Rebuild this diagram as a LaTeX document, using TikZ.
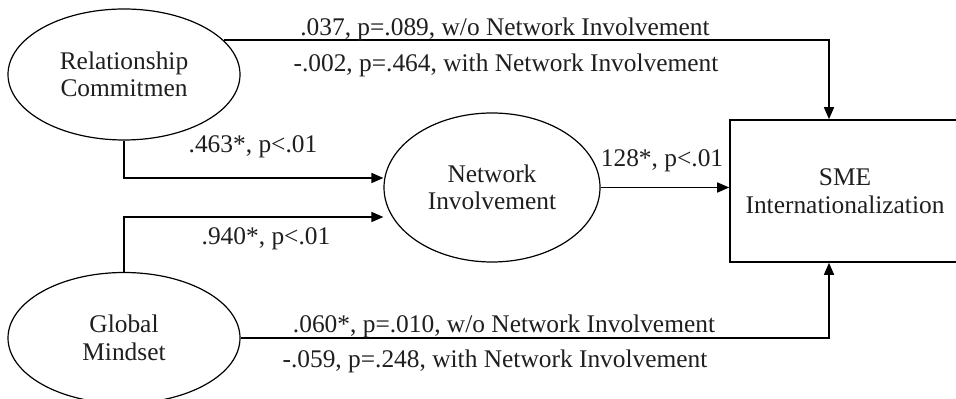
\documentclass[tikz,border=0pt]{standalone}
\usepackage{fontspec}
\setmainfont{Liberation Serif}
\usetikzlibrary{arrows.meta,shapes.geometric}
\begin{document}
\begin{tikzpicture}[x=0.5pt,y=-0.5pt,
  every node/.style={font=\fontsize{12.7}{13.8}\selectfont, text=black!88},
  latent/.style={draw, ellipse, inner sep=0pt, line width=0.6pt, align=center},
  outcome/.style={draw, rectangle, inner sep=0pt, line width=0.8pt, align=center},
  conn/.style={line width=0.8pt, -{Triangle[length=6pt,width=5pt]}},
  lbl/.style={anchor=base, inner sep=0pt}]
\useasboundingbox (0,0) rectangle (956,399);
\clip (0,0) rectangle (956,399);
\fill[white] (0,0) rectangle (956,399);

\node[latent, minimum width=116pt, minimum height=65.5pt] (rc) at (124,74.5) {Relationship\\Commitmen};
\node[latent, minimum width=108pt, minimum height=74.5pt] (ni) at (492,187.5) {Network\\Involvement};
\node[latent, minimum width=116pt, minimum height=65.5pt] (gm) at (124,338) {Global\\Mindset};
\node[outcome, minimum width=115pt, minimum height=71pt] (sme) at (845,191) {SME\\Internationalization};

\coordinate (topin) at ([xshift=-8pt]sme.north);
\coordinate (botin) at ([xshift=-8pt]sme.south);
\coordinate (rcin) at ([yshift=4.75pt]ni.west);
\coordinate (gmin) at ([yshift=-14.75pt]ni.west);

\draw[conn] (rc.19) -| (topin);
\draw[conn] (gm.east) -| (botin);
\draw[conn] (rc.south) |- (rcin);
\draw[conn] (gm.north) |- (gmin);
\draw[conn] (ni.east) -- (ni.east -| sme.west);

\node[lbl] (l1) at (505,36) {.037, p=.089, w/o Network Involvement};
\node[lbl] (l2) at (506,72) {-.002, p=.464, with Network Involvement};
\node[lbl] (l3) at (253,153) {.463*, p<.01};
\node[lbl] (l4) at (662,167) {128*, p<.01};
\node[lbl] (l5) at (266,245) {.940*, p<.01};
\node[lbl] (l6) at (504,333) {.060*, p=.010, w/o Network Involvement};
\node[lbl] (l7) at (495,368) {-.059, p=.248, with Network Involvement};
\end{tikzpicture}
\end{document}
